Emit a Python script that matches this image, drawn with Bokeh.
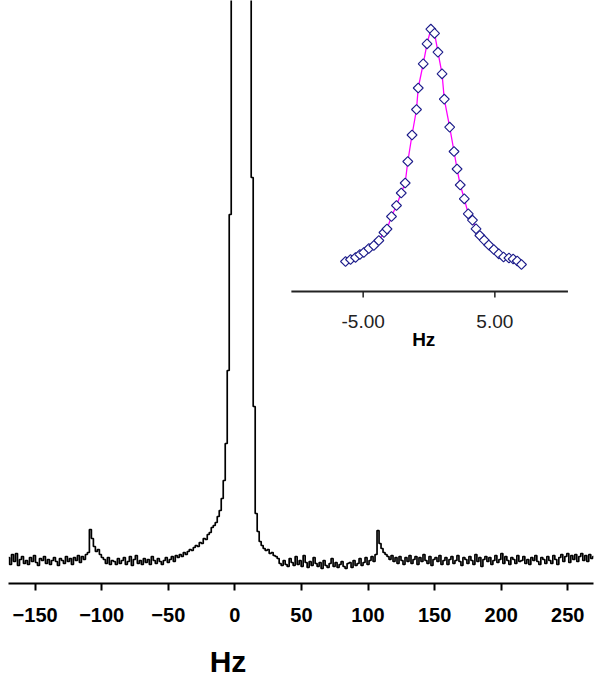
import math
from bokeh.plotting import figure
from bokeh.layouts import column
from bokeh.models import Range1d, ColumnDataSource, FixedTicker
from bokeh.embed import file_html
from bokeh.resources import INLINE
from bokeh.core.properties import value

# ---------------- data: main spectrum (1.5 Hz grid starting at -170 Hz) ----------------
hz_start = -170.0
hz_step = 1.5
intensity = [
    3, -4, 6, -1, 7, -5, 1, 4, -3, 0,
    -4, 3, -1, 5, -2, -5, 2, 0, 4, -3,
    1, -4, 0, 3, -1, -5, 2, 0, -3, 4,
    -1, 2, -4, 3, 0, 5, -2, 4, 1, 6,
    8, 31, 22, 14, 9, 11, 6, 3,
    1, -3, 3, -4, 0, -1, -4, 2, -3, 0,
    3, -4, -1, 4, -5, 1, 5, -3, 0, -4,
    2, -2, 1, -4, 4, 0, -3, 2, -1, -4,
    0, 3, -2, 1, 4, -1, 5,
    3, 6, 4, 8, 6, 9, 11, 10, 13, 15, 14, 18, 17, 22, 21, 26, 28, 33, 35, 38,
    44, 50, 62, 80, 117, 190, 346, 800, 1800, 3000,
    3800, 4200, 4000, 3200, 2000, 1200, 700, 383, 154, 47,
    29, 19, 15, 12, 10, 11, 7, 8, 5, 4,
    2, -3, -5, 0, -4, -6, 2, -2, -5, 4,
    -4, 0, -6, 5, -2, -7, -1, -5, 3, -3,
    -6, -2, -8, 0, -5, -7, -3, 2, -6, -2,
    -7, -4, -1, -6, -8, -3, -2, -7, 0, -5,
    -3, 2, -5, -2, 3, -4, 0, 4, -1,
    6, 30, 17, 12, 8, 6,
    4, 1, 5, -1, 3, -3, 4, 0, -4, 3,
    -1, 5, -3, 1, 4, -4, 3, -1, 6, 0,
    -3, 4, -5, 1, 3, -1, 5, -4, 0, 3,
    -4, 1, 4, -3, 0, 5, -1, -5, 3, 1,
    -3, 4, 0, -4, 6, -1, 3, -6, 1, 4,
    -1, 3, -4, 0, 5, -2, 1, 7, -3, 4,
    0, -4, 3, 1, -3, 5, -1, 0, 4, -3,
    1, -4, 3, 0, 5, -1, -4, 3, 1, -3,
    4, 0, -3, 5, 1, -4, 3, 6, -1, 4,
    7, -2, 5, 1, 6, -1, 4, 7, 0, 5,
    -1, 6, 2, 4,
]
hz = [hz_start + hz_step * i for i in range(len(intensity))]
main_ticks = [-150, -100, -50, 0, 50, 100, 150, 200, 250]
main_axis_label = "Hz"

# ---------------- data: inset (central line, points + fit) ----------------
inset_hz = [-6.34, -5.96, -5.58, -5.25, -4.95, -4.57, -4.19, -3.81, -3.42, -3.19,
            -2.85, -2.47, -2.11, -1.81, -1.61, -1.29, -0.95, -0.82, -0.44, -0.15,
            0.14, 0.42, 0.68, 0.99, 1.16, 1.57, 1.90, 2.13, 2.37, 2.68,
            2.98, 3.30, 3.57, 3.86, 4.19, 4.54, 4.92, 5.30, 5.66, 6.07,
            6.39, 6.70, 7.02]
inset_int = [30, 32, 34, 37, 39, 43, 46, 51, 59, 62.5,
             75, 86, 98.5, 108.5, 130, 156.5, 182, 203.5, 227.7, 247.7,
             262.3, 258.2, 239.3, 217.7, 192.3, 164.3, 140, 122.5, 106.5, 92.7,
             77.7, 71.3, 62.7, 56, 51.3, 46.5, 42, 37.7, 34.5, 33.5,
             32.5, 30.5, 27]
inset_ticks = [-5, 5]
inset_tick_labels = ["-5.00", "5.00"]
inset_axis_extent = (-10.45, 10.55)

X_RANGE = (-170, 269.3)

# ---------------- main figure ----------------
p = figure(width=600, height=640, output_backend="svg", toolbar_location=None,
           x_range=Range1d(*X_RANGE), y_range=Range1d(-23, 560),
           y_axis_location=None,
           min_border_left=8, min_border_right=7, min_border_top=0, min_border_bottom=57)
p.outline_line_color = None
p.grid.visible = False
p.background_fill_color = "white"
p.border_fill_color = "white"

src = ColumnDataSource(dict(hz=hz, intensity=intensity))
p.step(x="hz", y="intensity", source=src, mode="center", line_color="black", line_width=1.7)

ax = p.xaxis[0]
ax.ticker = FixedTicker(ticks=main_ticks)
ax.axis_line_width = 2
ax.axis_line_color = "black"
ax.major_tick_line_width = 2
ax.major_tick_line_color = "black"
ax.major_tick_out = 7
ax.major_tick_in = 0
ax.minor_tick_line_color = None
ax.major_label_standoff = 17
ax.major_label_text_font = "Liberation Sans"
ax.major_label_text_font_style = "bold"
ax.major_label_text_font_size = "20px"
ax.major_label_text_color = "black"

# ---------------- inset drawn on extra ranges ----------------
p.extra_x_ranges = {"ix": Range1d(-31.93, 12.49)}
p.extra_y_ranges = {"iy": Range1d(-292, 291)}

isrc = ColumnDataSource(dict(x=inset_hz, y=inset_int))
p.line(x="x", y="y", source=isrc, line_color="#ff00ff", line_width=1.3,
       x_range_name="ix", y_range_name="iy")
p.scatter(x="x", y="y", source=isrc, marker="square", angle=math.pi / 4, size=7,
          fill_color="white", line_color="#1c1c8a", line_width=1.1,
          x_range_name="ix", y_range_name="iy")

p.segment(x0=[inset_axis_extent[0]], y0=[0], x1=[inset_axis_extent[1]], y1=[0],
          line_color="#222222", line_width=2, x_range_name="ix", y_range_name="iy")
p.segment(x0=inset_ticks, y0=[0] * len(inset_ticks), x1=inset_ticks, y1=[-6] * len(inset_ticks),
          line_color="#222222", line_width=1.5, x_range_name="ix", y_range_name="iy")
p.text(x=inset_ticks, y=[-30] * len(inset_ticks), text=inset_tick_labels,
       text_align="center", text_baseline="middle",
       text_font=value("Liberation Sans"), text_font_size="19px", text_color="#222222",
       x_range_name="ix", y_range_name="iy")
p.text(x=[-0.4], y=[-47.5], text=["Hz"], text_align="center", text_baseline="middle",
       text_font=value("Liberation Sans"), text_font_style="bold", text_font_size="19px",
       text_color="black", x_range_name="ix", y_range_name="iy")

# ---------------- strip below carrying the main axis title ----------------
p2 = figure(width=600, height=41, output_backend="svg", toolbar_location=None,
            x_range=Range1d(*X_RANGE), y_range=Range1d(0, 41),
            x_axis_location=None, y_axis_location=None,
            min_border_left=8, min_border_right=7, min_border_top=0, min_border_bottom=0)
p2.outline_line_color = None
p2.grid.visible = False
p2.background_fill_color = "white"
p2.border_fill_color = "white"
p2.text(x=[-5.2], y=[20], text=[main_axis_label], text_align="center", text_baseline="middle",
        text_font=value("Liberation Sans"), text_font_style="bold", text_font_size="30px",
        text_color="black")

layout = column(p, p2, spacing=0)
open("out.html", "w").write(file_html(layout, INLINE))
